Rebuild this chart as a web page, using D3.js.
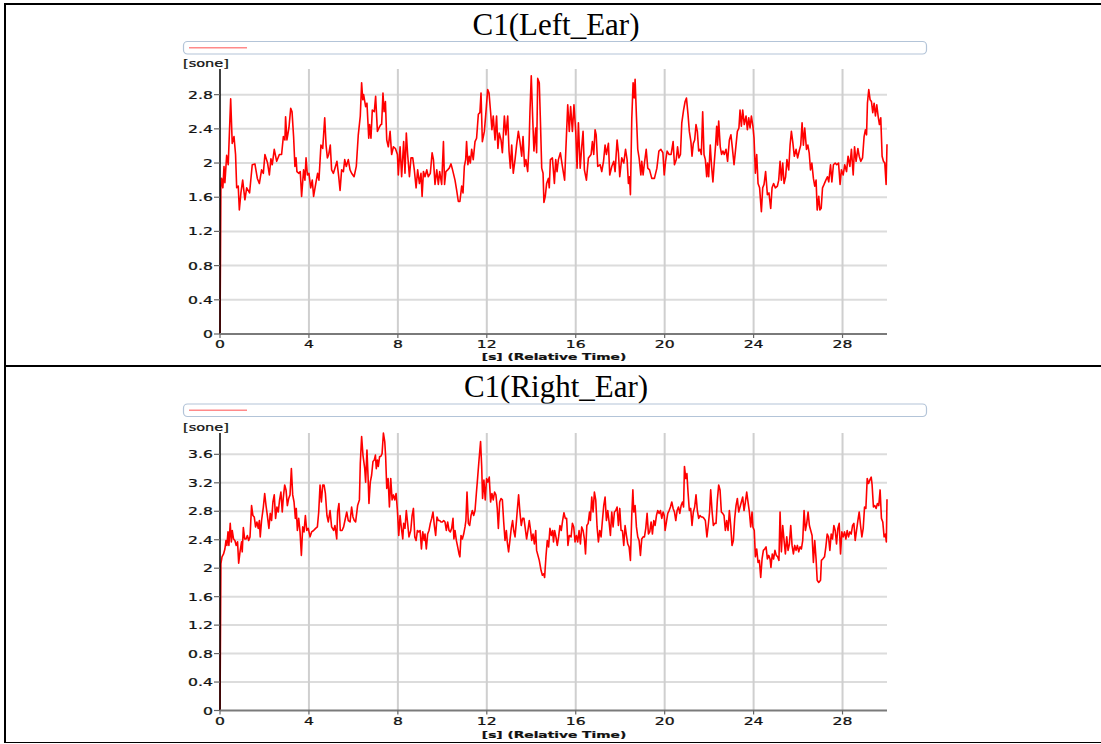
<!DOCTYPE html>
<html lang="en">
<head>
<meta charset="UTF-8">
<title>C1 loudness</title>
<script src="https://cdn.jsdelivr.net/npm/d3@7"></script>
<style>
    body { margin: 0; background: #fff; }
    .small { font-family: "DejaVu Sans", Verdana, sans-serif; fill: #111; stroke: #111; stroke-width: 0.25; }
    .title { font-family: "Liberation Serif", "Times New Roman", serif; font-size: 31px; fill: #000; }
    .hgrid { stroke: #dcdcdc; stroke-width: 2; }
    .vgrid { stroke: #cfcfcf; stroke-width: 2; }
    .curve { fill: none; stroke: #ff0000; stroke-width: 1.6; stroke-linejoin: round; }
</style>
</head>
<body>
<script>
    // ---- data: [time s, loudness sone] ----
    const xTicks = [0, 4, 8, 12, 16, 20, 24, 28];
    const leftTicks = [0, 0.4, 0.8, 1.2, 1.6, 2, 2.4, 2.8];
    const rightTicks = [0, 0.4, 0.8, 1.2, 1.6, 2, 2.4, 2.8, 3.2, 3.6];
    const titles = ["C1(Left_Ear)", "C1(Right_Ear)"];

    const leftEar = [
        [0,0],[0.04,1.71],[0.07,1.82],[0.13,1.71],[0.18,1.96],[0.22,1.77],[0.30,2.09],[0.37,1.98],[0.48,2.75],[0.55,2.23],
        [0.63,2.31],[0.70,2.10],[0.75,1.71],[0.82,1.73],[0.87,1.45],[0.94,1.65],[1.02,1.80],[1.12,1.57],[1.20,1.71],[1.33,1.65],
        [1.45,1.98],[1.57,1.99],[1.68,1.82],[1.77,1.76],[1.87,1.92],[1.95,1.88],[2.02,2.10],[2.14,2.00],[2.22,1.86],[2.29,2.05],
        [2.35,1.98],[2.44,2.16],[2.55,2.02],[2.67,2.10],[2.77,2.10],[2.85,2.31],[2.92,2.27],[2.95,2.54],[3.01,2.27],[3.10,2.41],
        [3.18,2.64],[3.24,2.60],[3.31,2.31],[3.37,1.96],[3.42,2.06],[3.46,1.90],[3.55,1.88],[3.61,1.90],[3.67,1.61],[3.76,1.92],
        [3.82,1.80],[3.87,2.06],[3.93,1.86],[4.00,1.88],[4.08,1.71],[4.15,1.80],[4.21,1.61],[4.32,1.78],[4.39,1.88],[4.45,1.80],
        [4.54,2.21],[4.62,2.17],[4.71,2.53],[4.77,2.21],[4.83,2.06],[4.89,2.10],[4.96,2.21],[5.02,1.92],[5.10,1.88],[5.17,1.94],
        [5.26,2.02],[5.34,1.84],[5.40,1.68],[5.47,1.92],[5.55,1.90],[5.61,2.04],[5.68,1.96],[5.77,2.04],[5.85,1.92],[5.92,1.88],
        [6.03,1.84],[6.13,1.96],[6.22,2.33],[6.31,2.55],[6.37,2.94],[6.42,2.74],[6.46,2.80],[6.55,2.66],[6.61,2.70],[6.69,2.29],
        [6.73,2.45],[6.79,2.29],[6.85,2.62],[6.94,2.60],[7.00,2.78],[7.08,2.37],[7.15,2.41],[7.23,2.45],[7.27,2.45],[7.33,2.82],
        [7.38,2.60],[7.44,2.72],[7.50,2.27],[7.57,2.19],[7.65,2.37],[7.72,2.10],[7.80,2.19],[7.89,2.17],[7.98,2.10],[8.02,1.86],
        [8.10,2.19],[8.17,1.84],[8.26,2.25],[8.32,1.88],[8.38,2.35],[8.44,2.10],[8.52,1.84],[8.59,2.06],[8.67,2.06],[8.74,1.92],
        [8.82,1.71],[8.89,1.92],[8.97,1.76],[9.04,1.88],[9.09,1.61],[9.15,1.90],[9.22,1.84],[9.30,1.92],[9.37,1.84],[9.46,1.88],
        [9.54,2.12],[9.60,2.04],[9.67,1.75],[9.75,1.92],[9.82,1.75],[9.88,1.90],[9.97,1.75],[10.05,2.25],[10.10,1.75],[10.16,1.90],
        [10.24,1.92],[10.31,1.94],[10.39,1.99],[10.46,1.92],[10.57,1.80],[10.64,1.69],[10.72,1.55],[10.79,1.55],[10.87,1.73],[10.93,1.65],
        [10.99,1.96],[11.05,2.04],[11.09,2.25],[11.15,1.98],[11.21,2.08],[11.26,2.00],[11.32,2.16],[11.39,2.04],[11.47,2.25],[11.54,2.29],
        [11.62,2.57],[11.69,2.59],[11.74,2.82],[11.80,2.25],[11.89,2.37],[11.96,2.59],[12.04,2.86],[12.10,2.82],[12.17,2.60],[12.23,2.39],
        [12.29,2.55],[12.37,2.27],[12.44,2.55],[12.50,2.17],[12.56,2.35],[12.64,2.27],[12.70,2.12],[12.79,2.55],[12.86,2.33],[12.94,2.55],
        [13.00,2.14],[13.06,1.94],[13.12,2.21],[13.19,1.88],[13.27,2.04],[13.34,2.21],[13.42,2.37],[13.49,2.25],[13.57,2.08],[13.63,2.31],
        [13.70,1.96],[13.76,2.04],[13.84,1.90],[13.90,2.21],[13.94,2.59],[14.00,3.02],[14.06,2.55],[14.12,2.14],[14.20,2.41],[14.24,2.12],
        [14.29,2.99],[14.36,2.94],[14.41,2.51],[14.47,1.94],[14.53,1.88],[14.57,1.54],[14.63,1.61],[14.69,1.76],[14.77,1.82],[14.81,1.71],
        [14.86,2.04],[14.95,2.06],[15.04,1.76],[15.10,2.04],[15.16,1.90],[15.22,2.04],[15.31,2.12],[15.40,1.96],[15.50,1.80],[15.55,2.12],
        [15.64,2.68],[15.71,2.37],[15.77,2.66],[15.85,2.37],[15.92,2.68],[16.00,2.37],[16.06,1.94],[16.12,2.47],[16.20,1.94],[16.27,2.19],
        [16.33,2.37],[16.39,1.92],[16.48,1.80],[16.57,2.06],[16.69,2.10],[16.75,2.25],[16.81,2.10],[16.87,2.39],[16.92,2.33],[16.99,1.96],
        [17.10,1.98],[17.17,1.90],[17.25,2.02],[17.32,2.21],[17.38,2.10],[17.47,2.23],[17.53,1.86],[17.62,1.96],[17.71,2.02],[17.77,1.90],
        [17.86,2.27],[17.92,2.12],[17.98,1.84],[18.07,2.06],[18.16,2.00],[18.24,2.16],[18.31,2.04],[18.37,1.76],[18.42,1.84],[18.46,1.63],
        [18.52,2.51],[18.58,2.94],[18.63,2.76],[18.67,2.98],[18.73,2.55],[18.79,2.16],[18.85,2.06],[18.93,1.86],[18.97,2.02],[19.03,1.86],
        [19.09,2.00],[19.17,2.16],[19.24,1.94],[19.32,1.92],[19.42,1.82],[19.54,1.82],[19.65,1.94],[19.74,2.14],[19.83,2.16],[19.92,2.12],
        [19.98,1.86],[20.04,2.02],[20.11,2.14],[20.20,2.10],[20.29,2.10],[20.38,2.25],[20.44,1.98],[20.52,2.04],[20.58,2.19],[20.64,2.06],
        [20.71,2.10],[20.77,2.47],[20.85,2.62],[20.92,2.72],[20.98,2.76],[21.05,2.57],[21.11,2.37],[21.18,2.25],[21.23,2.08],[21.29,2.23],
        [21.35,2.27],[21.41,2.45],[21.47,2.37],[21.53,2.14],[21.59,2.16],[21.65,2.10],[21.71,2.60],[21.77,2.10],[21.83,2.04],[21.89,1.84],
        [21.93,2.00],[21.98,1.84],[22.05,2.21],[22.11,1.96],[22.17,1.78],[22.23,2.00],[22.29,2.21],[22.34,2.43],[22.38,2.21],[22.43,2.49],
        [22.50,2.19],[22.56,2.10],[22.62,2.14],[22.68,2.10],[22.76,2.16],[22.83,2.02],[22.91,2.27],[22.98,2.33],[23.04,2.19],[23.12,1.98],
        [23.19,2.16],[23.27,2.37],[23.34,2.41],[23.39,2.62],[23.45,2.43],[23.51,2.62],[23.58,2.45],[23.66,2.55],[23.72,2.39],[23.78,2.53],
        [23.84,2.41],[23.90,2.55],[23.97,2.43],[24.02,2.29],[24.08,1.88],[24.14,2.10],[24.20,1.76],[24.27,1.71],[24.35,1.43],[24.41,1.71],
        [24.47,1.75],[24.54,1.90],[24.62,1.63],[24.69,1.65],[24.77,1.47],[24.83,1.71],[24.90,1.76],[24.98,1.71],[25.07,1.73],[25.13,1.80],
        [25.19,2.02],[25.25,1.80],[25.31,2.00],[25.37,1.76],[25.44,1.84],[25.50,2.04],[25.58,1.92],[25.64,2.21],[25.70,2.37],[25.76,2.25],
        [25.83,2.08],[25.91,2.16],[25.98,2.06],[26.05,2.14],[26.12,2.21],[26.18,2.47],[26.24,2.21],[26.30,2.41],[26.38,2.16],[26.44,2.21],
        [26.50,2.12],[26.56,1.92],[26.62,2.00],[26.69,1.82],[26.75,1.73],[26.81,1.80],[26.86,1.45],[26.93,1.61],[26.98,1.45],[27.04,1.47],
        [27.10,1.71],[27.17,1.75],[27.25,1.80],[27.32,1.84],[27.38,1.78],[27.46,1.98],[27.52,1.78],[27.59,1.98],[27.67,2.00],[27.74,1.98],
        [27.82,2.00],[27.89,1.75],[27.95,1.92],[28.03,1.86],[28.10,1.98],[28.18,1.90],[28.25,2.08],[28.33,1.96],[28.40,2.16],[28.48,1.86],
        [28.54,2.19],[28.61,2.02],[28.69,2.17],[28.75,2.08],[28.82,2.02],[28.90,2.06],[28.97,2.31],[29.03,2.39],[29.08,2.33],[29.12,2.70],
        [29.18,2.86],[29.24,2.74],[29.30,2.72],[29.36,2.59],[29.42,2.70],[29.48,2.55],[29.54,2.68],[29.60,2.55],[29.66,2.45],[29.72,2.53],
        [29.78,2.08],[29.84,2.02],[29.90,2.00],[29.96,1.75],[30.00,2.22]
    ];

    const rightEar = [
        [0,0],[0.04,2.06],[0.09,2.16],[0.16,2.20],[0.22,2.27],[0.27,2.39],[0.31,2.32],[0.36,2.51],[0.40,2.32],[0.46,2.63],
        [0.51,2.37],[0.55,2.53],[0.61,2.41],[0.67,2.39],[0.73,2.32],[0.79,2.37],[0.84,2.07],[0.90,2.23],[0.97,2.37],[1.00,2.23],
        [1.05,2.57],[1.11,2.41],[1.17,2.41],[1.23,2.46],[1.29,2.39],[1.35,2.44],[1.42,2.88],[1.48,2.74],[1.54,2.72],[1.60,2.58],
        [1.66,2.65],[1.72,2.56],[1.77,2.67],[1.81,2.44],[1.87,2.67],[1.95,2.86],[2.01,3.05],[2.07,2.88],[2.13,2.74],[2.20,2.56],
        [2.26,2.77],[2.32,2.67],[2.38,2.93],[2.44,3.03],[2.50,2.70],[2.56,2.86],[2.62,2.79],[2.68,2.96],[2.74,3.07],[2.80,2.79],
        [2.85,3.00],[2.91,3.17],[2.97,3.10],[3.03,2.88],[3.09,2.98],[3.15,3.03],[3.21,3.40],[3.27,3.03],[3.33,2.93],[3.39,2.70],
        [3.43,2.84],[3.48,2.53],[3.54,2.70],[3.60,2.51],[3.66,2.18],[3.72,2.58],[3.78,2.51],[3.84,2.74],[3.90,2.53],[3.97,2.56],
        [4.05,2.44],[4.12,2.51],[4.21,2.53],[4.30,2.56],[4.38,2.58],[4.44,2.79],[4.50,3.17],[4.56,2.93],[4.62,3.17],[4.68,3.17],
        [4.74,3.05],[4.81,2.74],[4.87,2.65],[4.95,2.81],[5.02,2.58],[5.11,2.53],[5.17,2.60],[5.25,2.41],[5.29,2.79],[5.35,2.91],
        [5.41,2.53],[5.49,2.53],[5.56,2.58],[5.62,2.67],[5.70,2.79],[5.77,2.67],[5.85,2.65],[5.92,2.86],[5.98,2.72],[6.04,2.67],
        [6.10,2.65],[6.19,2.88],[6.27,2.96],[6.31,3.47],[6.37,3.85],[6.43,3.59],[6.51,3.40],[6.55,3.21],[6.61,3.66],[6.66,3.28],
        [6.70,2.91],[6.76,3.21],[6.82,3.31],[6.88,3.50],[6.94,3.52],[6.99,3.59],[7.03,3.40],[7.08,3.52],[7.12,3.43],[7.18,3.57],
        [7.23,3.57],[7.29,3.61],[7.35,3.90],[7.41,3.78],[7.45,3.57],[7.50,3.12],[7.56,3.26],[7.62,2.86],[7.68,3.26],[7.74,2.96],
        [7.80,3.03],[7.86,2.96],[7.92,3.05],[7.98,2.81],[8.04,2.46],[8.10,2.74],[8.16,2.56],[8.22,2.41],[8.26,2.63],[8.32,2.56],
        [8.38,2.81],[8.44,2.63],[8.50,2.44],[8.58,2.53],[8.64,2.74],[8.70,2.84],[8.76,2.44],[8.82,2.39],[8.88,2.53],[8.94,2.51],
        [9.00,2.53],[9.06,2.27],[9.12,2.51],[9.18,2.39],[9.22,2.48],[9.28,2.27],[9.34,2.48],[9.40,2.53],[9.46,2.63],[9.52,2.70],
        [9.58,2.79],[9.64,2.60],[9.70,2.46],[9.76,2.72],[9.82,2.67],[9.88,2.67],[9.94,2.65],[10.00,2.65],[10.06,2.67],[10.12,2.65],
        [10.18,2.53],[10.24,2.65],[10.30,2.53],[10.36,2.51],[10.42,2.56],[10.48,2.70],[10.52,2.41],[10.57,2.53],[10.63,2.39],[10.69,2.30],
        [10.75,2.20],[10.79,2.16],[10.84,2.46],[10.90,2.41],[10.96,2.48],[11.02,2.58],[11.06,2.67],[11.11,3.07],[11.17,2.63],[11.23,2.60],
        [11.29,2.74],[11.35,2.81],[11.41,2.74],[11.47,2.81],[11.53,3.05],[11.59,3.28],[11.65,3.52],[11.72,3.78],[11.77,3.43],[11.81,2.98],
        [11.87,3.24],[11.93,2.96],[11.99,3.26],[12.05,3.21],[12.11,3.28],[12.17,2.93],[12.23,3.05],[12.29,2.96],[12.35,3.07],[12.41,3.03],
        [12.47,2.84],[12.52,2.56],[12.58,2.93],[12.64,2.98],[12.70,2.96],[12.76,2.65],[12.82,2.39],[12.88,2.53],[12.92,2.37],[12.98,2.23],
        [13.04,2.39],[13.10,2.56],[13.16,2.67],[13.21,2.53],[13.27,2.44],[13.33,2.65],[13.37,2.81],[13.43,3.03],[13.49,2.79],[13.55,2.60],
        [13.61,2.70],[13.67,2.70],[13.73,2.56],[13.79,2.41],[13.85,2.53],[13.91,2.67],[13.97,2.53],[14.02,2.39],[14.08,2.48],[14.14,2.34],
        [14.20,2.53],[14.24,2.25],[14.30,2.18],[14.36,2.11],[14.44,1.97],[14.50,1.90],[14.56,1.92],[14.60,1.87],[14.66,2.16],[14.72,2.39],
        [14.78,2.30],[14.84,2.56],[14.90,2.46],[14.96,2.53],[15.00,2.37],[15.05,2.53],[15.11,2.44],[15.17,2.32],[15.23,2.44],[15.29,2.60],
        [15.35,2.53],[15.41,2.67],[15.47,2.78],[15.53,2.70],[15.59,2.70],[15.65,2.32],[15.71,2.46],[15.79,2.44],[15.85,2.63],[15.91,2.58],
        [15.97,2.37],[16.03,2.46],[16.09,2.37],[16.15,2.53],[16.21,2.34],[16.27,2.58],[16.33,2.53],[16.39,2.41],[16.44,2.20],[16.50,2.60],
        [16.56,2.63],[16.62,2.79],[16.66,2.67],[16.72,3.00],[16.78,2.79],[16.84,3.07],[16.90,2.96],[16.96,2.58],[17.02,2.37],[17.08,2.53],
        [17.14,2.44],[17.20,2.67],[17.26,2.88],[17.32,3.00],[17.38,2.67],[17.44,2.81],[17.50,2.65],[17.56,2.46],[17.62,2.79],[17.68,2.58],
        [17.74,2.79],[17.80,2.81],[17.86,2.86],[17.92,2.60],[17.98,2.84],[18.04,2.53],[18.10,2.53],[18.16,2.32],[18.22,2.60],[18.28,2.46],
        [18.34,2.34],[18.40,2.30],[18.46,2.11],[18.52,2.74],[18.57,3.10],[18.61,2.79],[18.67,2.88],[18.73,2.58],[18.79,2.44],[18.85,2.39],
        [18.91,2.18],[18.97,2.41],[19.03,2.44],[19.09,2.44],[19.15,2.56],[19.21,2.77],[19.27,2.48],[19.33,2.51],[19.39,2.65],[19.45,2.48],
        [19.51,2.67],[19.57,2.60],[19.63,2.74],[19.69,2.81],[19.75,2.77],[19.81,2.81],[19.87,2.70],[19.93,2.79],[19.98,2.74],[20.02,2.53],
        [20.08,2.65],[20.14,2.77],[20.20,2.81],[20.26,2.86],[20.32,2.93],[20.38,2.84],[20.44,2.79],[20.50,2.67],[20.56,2.81],[20.62,2.86],
        [20.68,2.77],[20.74,2.88],[20.80,2.93],[20.85,2.86],[20.89,3.43],[20.95,3.26],[21.00,3.33],[21.05,3.07],[21.11,2.81],[21.17,2.84],
        [21.23,2.60],[21.29,2.79],[21.35,2.86],[21.41,3.03],[21.47,2.81],[21.53,2.70],[21.59,2.74],[21.65,2.72],[21.71,2.72],[21.77,2.70],
        [21.83,2.67],[21.90,2.44],[21.96,2.60],[22.02,2.79],[22.07,3.10],[22.13,2.81],[22.19,2.60],[22.25,2.63],[22.31,2.63],[22.37,2.96],
        [22.43,3.17],[22.49,3.10],[22.55,2.79],[22.61,2.77],[22.67,2.74],[22.73,2.53],[22.79,2.67],[22.85,2.53],[22.91,2.81],[22.97,2.60],
        [23.03,2.32],[23.09,2.39],[23.15,2.70],[23.21,2.88],[23.27,2.98],[23.33,2.79],[23.39,2.86],[23.45,2.93],[23.51,3.00],[23.57,2.81],
        [23.63,2.93],[23.69,3.07],[23.75,2.93],[23.81,2.79],[23.87,2.58],[23.93,2.79],[23.97,2.58],[24.03,2.53],[24.08,2.16],[24.14,2.27],
        [24.20,2.08],[24.26,2.11],[24.32,1.87],[24.38,2.13],[24.44,2.25],[24.50,2.27],[24.56,2.30],[24.62,2.13],[24.68,2.18],[24.74,2.13],
        [24.78,2.01],[24.84,2.20],[24.90,2.13],[24.96,2.25],[25.02,2.18],[25.08,2.16],[25.14,2.11],[25.19,2.79],[25.25,2.23],[25.31,2.60],
        [25.37,2.39],[25.43,2.20],[25.49,2.44],[25.55,2.25],[25.61,2.34],[25.67,2.60],[25.73,2.32],[25.79,2.20],[25.85,2.32],[25.91,2.25],
        [25.97,2.32],[26.03,2.23],[26.09,2.30],[26.15,2.27],[26.21,2.39],[26.27,2.81],[26.33,2.53],[26.39,2.63],[26.45,2.79],[26.51,2.60],
        [26.57,2.53],[26.63,2.46],[26.69,2.08],[26.75,2.39],[26.81,2.13],[26.86,1.83],[26.93,1.80],[27.01,1.83],[27.05,2.11],[27.11,2.13],
        [27.19,2.16],[27.25,2.30],[27.31,2.48],[27.37,2.44],[27.43,2.25],[27.49,2.48],[27.55,2.41],[27.61,2.60],[27.67,2.53],[27.73,2.34],
        [27.79,2.56],[27.85,2.63],[27.91,2.20],[27.97,2.51],[28.03,2.44],[28.09,2.51],[28.15,2.41],[28.21,2.53],[28.27,2.44],[28.33,2.51],
        [28.39,2.48],[28.45,2.60],[28.51,2.63],[28.57,2.39],[28.63,2.53],[28.69,2.67],[28.75,2.79],[28.81,2.60],[28.87,2.44],[28.93,2.56],
        [28.99,2.86],[29.05,2.84],[29.11,3.26],[29.17,3.19],[29.23,3.24],[29.29,3.28],[29.33,3.17],[29.39,2.86],[29.45,2.88],[29.51,2.84],
        [29.57,2.91],[29.63,2.88],[29.69,3.10],[29.75,2.70],[29.81,2.65],[29.87,2.44],[29.93,2.48],[29.97,2.37],[30.00,2.97]
    ];

    const width = 1101, height = 744;
    const plotLeft = 220, plotRight = 887;
    const stretch = 1.45;   // the small labels in the picture are wide

    const svg = d3.select("body")
                  .append("svg")
                  .attr("width", width)
                  .attr("height", height);

    // frame round the two charts
    svg.append("line").attr("x1", 4).attr("x2", width).attr("y1", 4).attr("y2", 4)
       .attr("stroke", "#000").attr("stroke-width", 2);
    svg.append("line").attr("x1", 5).attr("x2", 5).attr("y1", 3).attr("y2", 743)
       .attr("stroke", "#000").attr("stroke-width", 2);
    svg.append("line").attr("x1", 4).attr("x2", width).attr("y1", 366).attr("y2", 366)
       .attr("stroke", "#000").attr("stroke-width", 2);
    svg.append("line").attr("x1", 4).attr("x2", width).attr("y1", 742.5).attr("y2", 742.5)
       .attr("stroke", "#000").attr("stroke-width", 1);

    const x = d3.scaleLinear().domain([0, 30]).range([plotLeft, plotRight]);

    function smallText(g, str, px, py, anchor, size, bold) {
        g.append("text").attr("class", "small")
         .attr("transform", `translate(${px},${py}) scale(${stretch},1)`)
         .attr("text-anchor", anchor)
         .style("font-size", size + "px")
         .style("font-weight", bold ? "bold" : "normal")
         .text(str);
    }

    function drawPanel(p) {
        const g = svg.append("g");
        const y = d3.scaleLinear().domain([0, p.yMax]).range([p.bottom, p.top]);

        g.append("text").attr("class", "title")
         .attr("x", 556).attr("y", p.titleY).attr("text-anchor", "middle")
         .text(p.title);

        // legend box with the one series swatch
        g.append("rect").attr("x", 183.5).attr("y", p.legendY)
         .attr("width", 743).attr("height", 12.5).attr("rx", 4)
         .attr("fill", "#fff").attr("stroke", "#b3c4d8").attr("stroke-width", 1.2);
        g.append("line").attr("x1", 189).attr("x2", 247)
         .attr("y1", p.legendY + 6.2).attr("y2", p.legendY + 6.2)
         .attr("stroke", "#ff8a8a").attr("stroke-width", 1.5);

        smallText(g, "[sone]", 183, p.top - 2, "start", 10);

        // grid
        g.selectAll("line.hgrid").data(p.ticks.filter(d => d > 0))
         .join("line").attr("class", "hgrid")
         .attr("x1", plotLeft).attr("x2", plotRight)
         .attr("y1", d => y(d)).attr("y2", d => y(d));
        g.selectAll("line.vgrid").data(xTicks.filter(d => d > 0))
         .join("line").attr("class", "vgrid")
         .attr("x1", d => x(d)).attr("x2", d => x(d))
         .attr("y1", p.top).attr("y2", p.bottom);

        // the curve
        const line = d3.line().x(d => x(d[0])).y(d => y(d[1]));
        g.append("path").datum(p.data).attr("class", "curve").attr("d", line);

        // axes
        g.append("line").attr("x1", plotLeft).attr("x2", plotLeft)
         .attr("y1", p.top).attr("y2", p.bottom)
         .attr("stroke", "#000").attr("stroke-width", 1.5);
        g.append("line").attr("x1", plotLeft).attr("x2", plotRight)
         .attr("y1", p.bottom).attr("y2", p.bottom)
         .attr("stroke", "#7a7a7a").attr("stroke-width", 2);

        g.selectAll("line.ytick").data(p.ticks)
         .join("line").attr("class", "ytick")
         .attr("x1", plotLeft - 6).attr("x2", plotLeft)
         .attr("y1", d => y(d)).attr("y2", d => y(d))
         .attr("stroke", "#666").attr("stroke-width", 1.2);
        g.selectAll("line.xtick").data(xTicks)
         .join("line").attr("class", "xtick")
         .attr("x1", d => x(d)).attr("x2", d => x(d))
         .attr("y1", p.bottom).attr("y2", p.bottom + 4)
         .attr("stroke", "#666").attr("stroke-width", 1.2);

        p.ticks.forEach(t => smallText(g, d3.format("~g")(t), plotLeft - 7, y(t) + 4, "end", 10.8));
        xTicks.forEach(t => smallText(g, String(t), x(t), p.bottom + 14, "middle", 10.8));

        smallText(g, "[s] (Relative Time)", 554, p.xLabelY, "middle", 9.5, true);
    }

    drawPanel({title: titles[0], data: leftEar, ticks: leftTicks, yMax: 3.1,
               titleY: 35, legendY: 41.5, top: 69, bottom: 334, xLabelY: 360});
    drawPanel({title: titles[1], data: rightEar, ticks: rightTicks, yMax: 3.9,
               titleY: 397, legendY: 404, top: 433, bottom: 710.5, xLabelY: 738});
</script>
</body>
</html>
